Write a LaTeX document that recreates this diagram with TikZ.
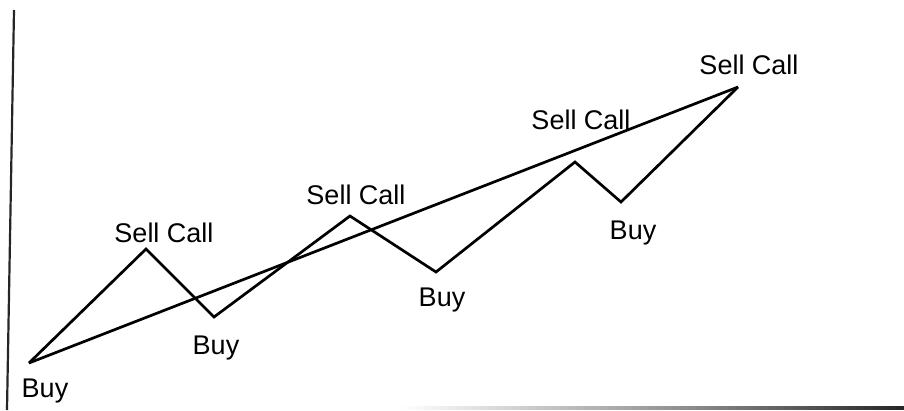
\documentclass[tikz,border=0pt]{standalone}
\usepackage{fontspec}
\setmainfont{Liberation Sans}
\begin{document}
\begin{tikzpicture}[x=1pt,y=-1pt,
  trend/.style={line width=2.7pt, line join=miter},
  lbl/.style={anchor=base, inner sep=0pt, font=\fontsize{27}{32}\selectfont, text=black}]
\useasboundingbox (0,0) rectangle (904,410);
% axes
\coordinate (ytop) at (14,10);
\coordinate (ybot) at (7,410);
\draw[line width=2.2pt, black!85] (ytop) -- (ybot);
\shade[left color=white, right color=black!45] (400,406.6) rectangle (690,409.4);
\shade[left color=black!45, right color=black!85] (690,406.6) rectangle (904,409.4);
% turning points
\coordinate (b1) at (29,363);
\coordinate (s1) at (146,249);
\coordinate (b2) at (214,317);
\coordinate (s2) at (350,216);
\coordinate (b3) at (436,272);
\coordinate (s3) at (575,162);
\coordinate (b4) at (621,202);
\coordinate (s4) at (738,87);
% zigzag and trend line
\draw[trend] (b1) -- (s1) -- (b2) -- (s2) -- (b3) -- (s3) -- (b4) -- (s4);
\draw[trend] (b1) -- (s4);
% labels
\node[lbl] (lb1) at (45,397) {Buy};
\node[lbl] (ls1) at (164,242) {Sell Call};
\node[lbl] (lb2) at (216,354) {Buy};
\node[lbl] (ls2) at (356,204) {Sell Call};
\node[lbl] (lb3) at (442,306) {Buy};
\node[lbl] (ls3) at (581,129) {Sell Call};
\node[lbl] (lb4) at (633,239) {Buy};
\node[lbl] (ls4) at (749,74) {Sell Call};
\end{tikzpicture}
\end{document}
